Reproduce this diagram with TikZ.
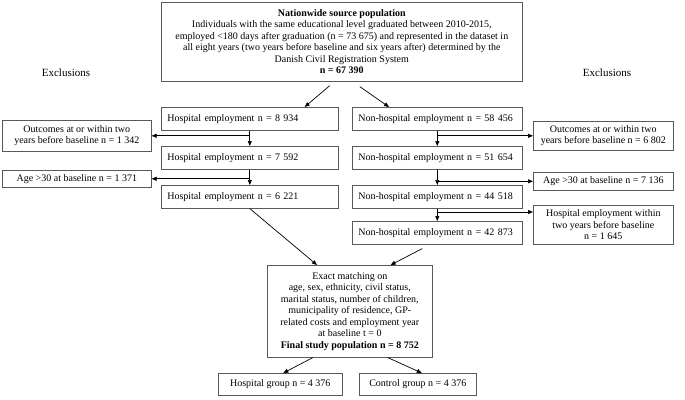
\documentclass[tikz,border=0pt]{standalone}
\usepackage{fontspec}
\setmainfont{Liberation Serif}
\usetikzlibrary{arrows.meta}

\begin{document}
\begin{tikzpicture}[x=1pt, y=-1pt, line width=0.6pt,
    box/.style={draw=black!65, inner xsep=6pt, inner ysep=2pt, font=\fontsize{10}{11.5}\selectfont},
    leftbox/.style={box, anchor=north west, text width=165pt, minimum height=23pt, align=left},
    exclbox/.style={box, anchor=north west, minimum width=#1, align=center},
    arr/.style={-{Triangle[length=5pt,width=4pt]}, black, line width=0.7pt}]
    \useasboundingbox (0,0) rectangle (685,399);

    % Source population on top
    \node[box, anchor=north west, minimum width=361pt, minimum height=79pt, align=center] (src) at (161,2)
        {\textbf{Nationwide source population}\\
         Individuals with the same educational level graduated between 2010-2015,\\
         employed <180 days after graduation (n = 73 675) and represented in the dataset in\\
         all eight years (two years before baseline and six years after) determined by the\\
         Danish Civil Registration System\\
         \textbf{n = 67 390}};

    % Column headings
    \node[font=\fontsize{11}{13}\selectfont] (exclL) at (66,73) {Exclusions};
    \node[font=\fontsize{11}{13}\selectfont] (exclR) at (607,73) {Exclusions};

    % Hospital branch
    \node[leftbox] (hosp1) at (161,107) {Hospital employment n = 8 934};
    \node[leftbox] (hosp2) at (161,146) {Hospital employment n = 7 592};
    \node[leftbox] (hosp3) at (161,185) {Hospital employment n = 6 221};

    % Non-hospital branch
    \node[leftbox, text width=158pt] (nhosp1) at (352,107) {Non-hospital employment n = 58 456};
    \node[leftbox, text width=158pt] (nhosp2) at (352,146) {Non-hospital employment n = 51 654};
    \node[leftbox, text width=158pt] (nhosp3) at (352,185) {Non-hospital employment n = 44 518};
    \node[leftbox, text width=158pt] (nhosp4) at (352,221) {Non-hospital employment n = 42 873};

    % Exclusions on the left
    \node[exclbox=149pt, minimum height=31pt] (outL) at (2,120) {Outcomes at or within two\\years before baseline n = 1 342};
    \node[exclbox=149pt, minimum height=17pt] (ageL) at (2,170) {Age >30 at baseline n = 1 371};

    % Exclusions on the right
    \node[exclbox=140pt, minimum height=29pt] (outR) at (533,121) {Outcomes at or within two\\years before baseline n = 6 802};
    \node[exclbox=140pt, minimum height=18pt] (ageR) at (533,172) {Age >30 at baseline n = 7 136};
    \node[exclbox=140pt, minimum height=39pt] (hwinR) at (533,205) {Hospital employment within\\two years before baseline\\n = 1 645};

    % Matching and final groups
    \node[box, anchor=north west, minimum width=165pt, minimum height=92pt, align=center] (match) at (267,265)
        {Exact matching on\\
         age, sex, ethnicity, civil status,\\
         marital status, number of children,\\
         municipality of residence, GP-\\
         related costs and employment year\\
         at baseline t = 0\\
         \textbf{Final study population n = 8 752}};
    \node[box, anchor=north west, minimum width=124pt, minimum height=22pt] (grpH) at (218,373) {Hospital group n = 4 376};
    \node[box, anchor=north west, minimum width=117pt, minimum height=22pt] (grpC) at (359,373) {Control group n = 4 376};

    % Split of the source population
    \draw[arr] ([xshift=-12pt, yshift=-4pt]src.south) -- ([xshift=-34pt]hosp1.north east);
    \draw[arr] ([xshift=18pt, yshift=-5pt]src.south) -- ([xshift=37pt]nhosp1.north west);

    % Flow down the hospital column
    \draw[arr] (hosp1) -- (hosp2);
    \draw[arr] (hosp1.south |- outL.east) -- (outL.east);
    \draw[arr] (hosp2) -- (hosp3);
    \draw[arr] (hosp2.south |- ageL.east) -- (ageL.east);

    % Flow down the non-hospital column
    \coordinate (hwin) at ([yshift=-7pt]hwinR.north west);
    \draw[arr] (nhosp1) -- (nhosp2);
    \draw[arr] (nhosp1.south |- outR.west) -- (outR.west);
    \draw[arr] (nhosp2) -- (nhosp3);
    \draw[arr] (nhosp2.south |- ageR.west) -- (ageR.west);
    \draw[arr] (nhosp3) -- (nhosp4);
    \draw[arr] (nhosp3.south |- hwin) -- (hwin);

    % Into the matching and out to the groups
    \draw[arr] (hosp3.south) -- ([xshift=50pt]match.north west);
    \draw[arr] ([xshift=-15pt, yshift=-4pt]nhosp4.south) -- ([xshift=-42pt]match.north east);
    \draw[arr] ([xshift=-37pt]match.south) -- ([xshift=3pt]grpH.north);
    \draw[arr] ([xshift=38pt]match.south) -- ([xshift=4pt]grpC.north);
\end{tikzpicture}
\end{document}
